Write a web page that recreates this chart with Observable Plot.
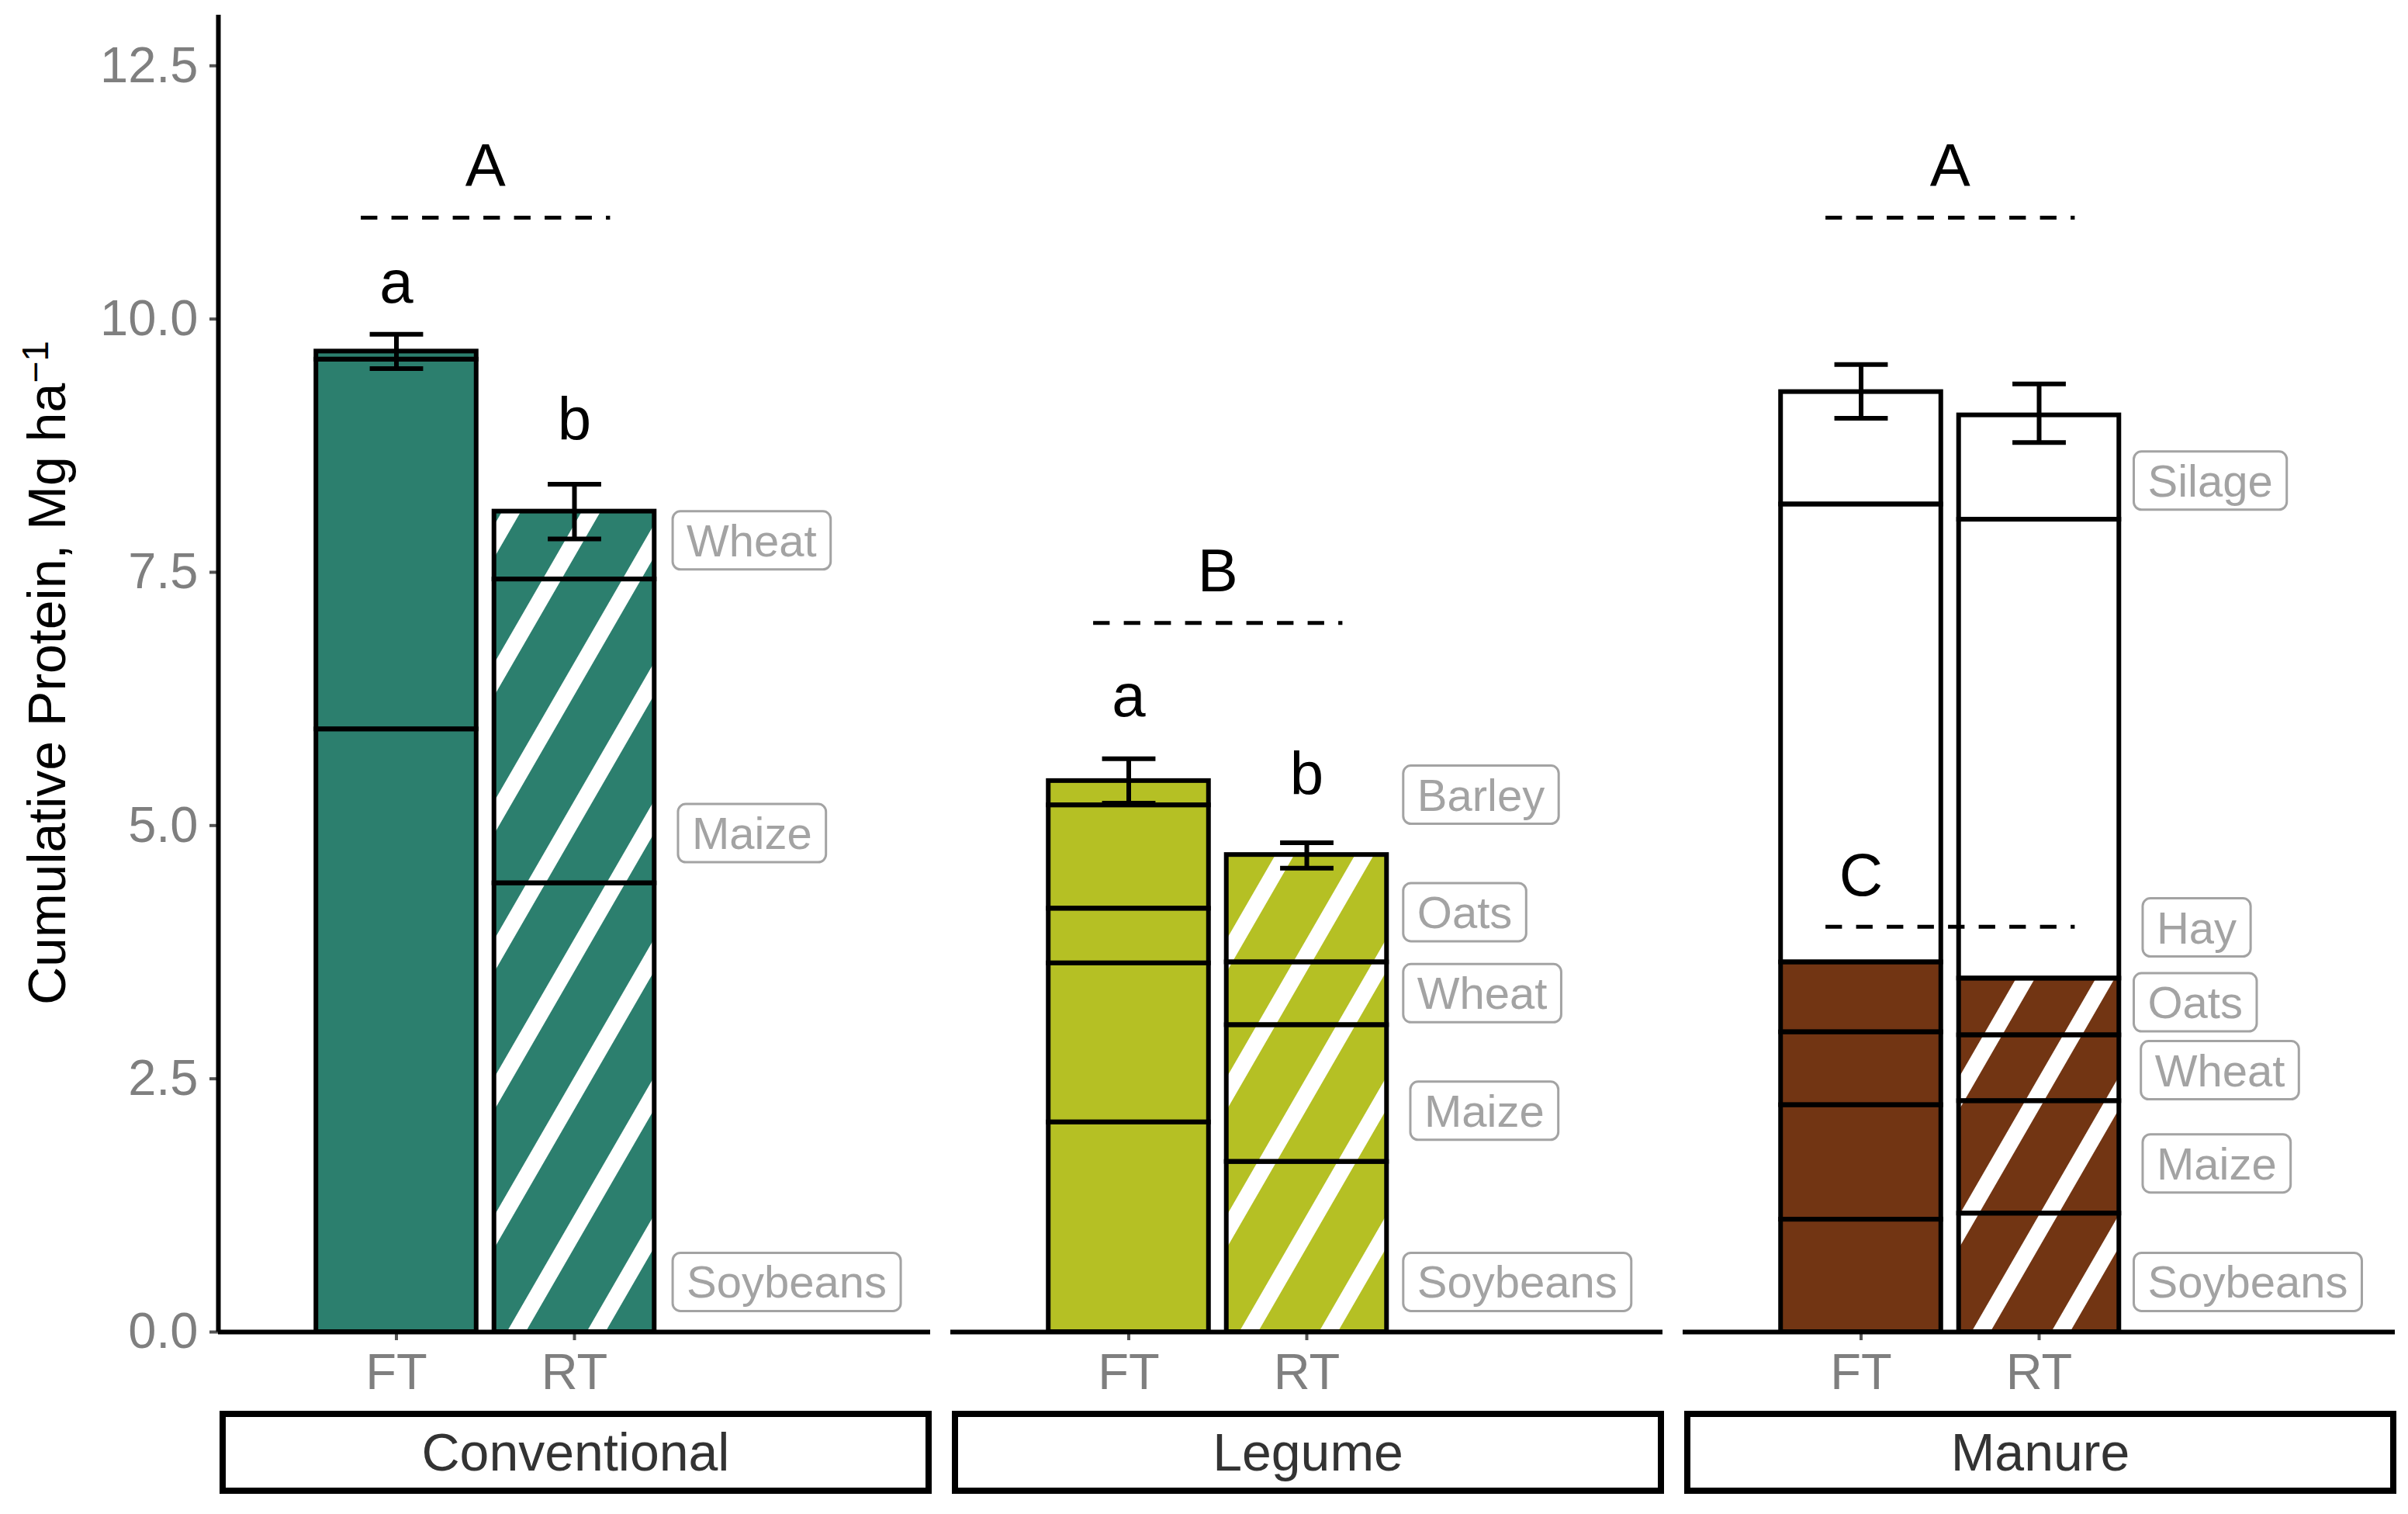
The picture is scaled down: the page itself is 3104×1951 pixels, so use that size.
<!DOCTYPE html>
<html>
<head>
<meta charset="utf-8">
<script src="https://cdn.jsdelivr.net/npm/d3@7"></script>
<script src="https://cdn.jsdelivr.net/npm/@observablehq/plot@0.6"></script>
<style>
  body { margin: 0; background: #fff; }
  svg { display: block; }
</style>
</head>
<body>
<script>
// ---------- data ----------
const systems = ["Conventional", "Legume", "Manure"];
const tillages = ["FT", "RT"];
const systemColors = ["#2c7f6e", "#b5c024", "#723513"];
const whiteCrops = ["Hay", "Silage"];

// crop contributions (Mg ha-1), stacked bottom to top
const convCrops = ["Soybeans", "Maize", "Wheat"];
const convFT = [5.95, 3.65, 0.08];
const convRT = [4.43, 3.00, 0.67];

const legCrops = ["Soybeans", "Maize", "Wheat", "Oats", "Barley"];
const legFT = [2.07, 1.57, 0.54, 1.02, 0.24];
const legRT = [1.68, 1.35, 0.62, 1.06, 0.00];

const manCrops = ["Soybeans", "Maize", "Wheat", "Oats", "Hay", "Silage"];
const manFT = [1.11, 1.13, 0.72, 0.69, 4.52, 1.11];
const manRT = [1.17, 1.11, 0.65, 0.56, 4.53, 1.03];

// error bars
const errSystem = ["Conventional", "Conventional", "Legume", "Legume", "Manure", "Manure"];
const errTillage = ["FT", "RT", "FT", "RT", "FT", "RT"];
const errLow = [9.51, 7.83, 5.22, 4.58, 9.02, 8.78];
const errHigh = [9.85, 8.37, 5.66, 4.83, 9.55, 9.36];

// tillage letters
const tukeySystem = ["Conventional", "Conventional", "Legume", "Legume"];
const tukeyTillage = ["FT", "RT", "FT", "RT"];
const tukeyLetter = ["a", "b", "a", "b"];
const tukeyY = [10.35, 9.0, 6.27, 5.5];

// system letters with dashed lines
const groupSystem = ["Conventional", "Legume", "Manure", "Manure"];
const groupLetter = ["A", "B", "A", "C"];
const groupLineY = [11.0, 7.0, 11.0, 4.0];
const groupLetterY = [11.5, 7.5, 11.5, 4.5];
const groupLetterX = [1.5, 1.5, 1.5, 1.0];
const groupFrom = [0.8, 0.8, 0.8, 0.8];
const groupTo = [2.2, 2.2, 2.2, 2.2];

// crop labels
const labelSystem = ["Conventional", "Conventional", "Conventional",
  "Legume", "Legume", "Legume", "Legume", "Legume",
  "Manure", "Manure", "Manure", "Manure", "Manure", "Manure"];
const labelText = ["Wheat", "Maize", "Soybeans",
  "Barley", "Oats", "Wheat", "Maize", "Soybeans",
  "Silage", "Hay", "Oats", "Wheat", "Maize", "Soybeans"];
const labelY = [7.80, 4.91, 0.48,
  5.29, 4.13, 3.33, 2.17, 0.48,
  8.39, 3.98, 3.24, 2.57, 1.65, 0.48];
const labelX = [2.63, 2.66, 2.63,
  2.62, 2.62, 2.62, 2.66, 2.62,
  2.61, 2.66, 2.61, 2.65, 2.66, 2.61];

const yTicks = [0, 2.5, 5, 7.5, 10, 12.5];

// ---------- tables ----------
const stacks = [[convCrops, convFT, convRT], [legCrops, legFT, legRT], [manCrops, manFT, manRT]];
const segments = [];
systems.forEach((sys, i) => {
  const [crops, ft, rt] = stacks[i];
  [ft, rt].forEach((vals, j) => {
    let base = 0;
    vals.forEach((v, k) => {
      segments.push({
        system: sys, tillage: tillages[j], pos: j + 1, crop: crops[k],
        y1: base, y2: base + v,
        fill: whiteCrops.includes(crops[k]) ? "white" : systemColors[i]
      });
      base += v;
    });
  });
});
const errs = errSystem.map((s, i) => ({system: s, pos: tillages.indexOf(errTillage[i]) + 1, lo: errLow[i], hi: errHigh[i]}));
const tukey = tukeySystem.map((s, i) => ({system: s, pos: tillages.indexOf(tukeyTillage[i]) + 1, letter: tukeyLetter[i], y: tukeyY[i]}));
const groups = groupSystem.map((s, i) => ({system: s, letter: groupLetter[i], lineY: groupLineY[i], letterY: groupLetterY[i], letterX: groupLetterX[i], x1: groupFrom[i], x2: groupTo[i]}));
const labels = labelSystem.map((s, i) => ({system: s, text: labelText[i], x: labelX[i], y: labelY[i]}));

const half = 0.45, cap = 0.15;
const tickGray = "#7f7f7f", tickStroke = "#555555", labelGray = "#a3a3a3";
const lw = 6;

const chart = Plot.plot({
  width: 3104,
  height: 1951,
  marginLeft: 281,
  marginRight: 17,
  marginTop: 19,
  marginBottom: 235,
  style: {fontFamily: "'Liberation Sans', Arial, sans-serif", background: "white"},
  fx: {domain: systems, paddingInner: 26 / 944, paddingOuter: 0, axis: null, label: null},
  x: {domain: [0, 4]},
  y: {domain: [0, 13]},
  color: {type: "identity"},
  marks: [
    Plot.rect(segments, {fx: "system", x1: d => d.pos - half, x2: d => d.pos + half, y1: "y1", y2: "y2", fill: "fill"}),
    Plot.rect(segments.filter(d => d.tillage === "RT"), {fx: "system", x1: d => d.pos - half, x2: d => d.pos + half, y1: "y1", y2: "y2", fill: "url(#hatch)"}),
    Plot.rect(segments, {fx: "system", x1: d => d.pos - half, x2: d => d.pos + half, y1: "y1", y2: "y2", fill: "none", stroke: "black", strokeWidth: lw}),
    // error bars
    Plot.ruleX(errs, {fx: "system", x: "pos", y1: "lo", y2: "hi", stroke: "black", strokeWidth: lw}),
    Plot.link(errs, {fx: "system", x1: d => d.pos - cap, x2: d => d.pos + cap, y1: "hi", y2: "hi", stroke: "black", strokeWidth: lw}),
    Plot.link(errs, {fx: "system", x1: d => d.pos - cap, x2: d => d.pos + cap, y1: "lo", y2: "lo", stroke: "black", strokeWidth: lw}),
    // letters
    Plot.text(tukey, {fx: "system", x: "pos", y: "y", text: "letter", fontSize: 78, fill: "black"}),
    Plot.link(groups, {fx: "system", x1: "x1", x2: "x2", y1: "lineY", y2: "lineY", stroke: "black", strokeWidth: 5, strokeDasharray: "21.3,18.2"}),
    Plot.text(groups, {fx: "system", x: "letterX", y: "letterY", text: "letter", fontSize: 78, fill: "black"}),
    // crop labels
    Plot.text(labels, {fx: "system", x: "x", y: "y", text: "text", textAnchor: "start", fontSize: 58, fill: labelGray, className: "croplabel"}),
    // axes
    Plot.axisY({ticks: yTicks, tickFormat: d3.format(".1f"), tickSize: 11, tickPadding: 15, fontSize: 65, stroke: tickStroke, fill: tickGray, strokeWidth: 4, label: null}),
    Plot.axisX({ticks: [1, 2], tickFormat: d => tillages[d - 1], tickSize: 11, tickPadding: 16, fontSize: 65, stroke: tickStroke, fill: tickGray, strokeWidth: 4, label: null}),
    Plot.ruleY([0], {stroke: "black", strokeWidth: lw}),
    Plot.ruleX([0], {fx: () => "Conventional", stroke: "black", strokeWidth: lw})
  ]
});

document.body.appendChild(chart);

// ---------- decorations ----------
const svg = d3.select(chart);
const NS = "http://www.w3.org/2000/svg";

// hatch pattern (white diagonal stripes)
const defs = svg.insert("defs", ":first-child");
const pat = defs.append("pattern")
  .attr("id", "hatch")
  .attr("patternUnits", "userSpaceOnUse")
  .attr("width", 89)
  .attr("height", 89)
  .attr("patternTransform", "rotate(30)");
pat.append("rect").attr("x", 0).attr("y", 0).attr("width", 21).attr("height", 89).attr("fill", "white");

// label boxes
svg.selectAll("g.croplabel text").each(function () {
  const bb = this.getBBox();
  const cy = bb.y + bb.height / 2;
  const r = document.createElementNS(NS, "rect");
  r.setAttribute("x", bb.x - 18);
  r.setAttribute("y", cy - 37.5);
  r.setAttribute("width", bb.width + 36);
  r.setAttribute("height", 75);
  r.setAttribute("rx", 10);
  r.setAttribute("ry", 10);
  r.setAttribute("fill", "white");
  r.setAttribute("stroke", labelGray);
  r.setAttribute("stroke-width", 3);
  const t = this.getAttribute("transform");
  if (t) r.setAttribute("transform", t);
  this.parentNode.insertBefore(r, this);
});

// facet strips at the bottom
const fx = chart.scale("fx");
systems.forEach(s => {
  const x0 = fx.apply(s), bw = fx.bandwidth;
  svg.append("rect")
    .attr("x", x0 + 6).attr("y", 1822)
    .attr("width", bw - 8).attr("height", 99)
    .attr("fill", "white").attr("stroke", "black").attr("stroke-width", 8);
  svg.append("text")
    .attr("x", x0 + bw / 2 + 2).attr("y", 1871)
    .attr("text-anchor", "middle").attr("dy", "0.35em")
    .attr("font-size", 68).attr("fill", "#333333")
    .text(s);
});

// y-axis title with superscript
const yt = svg.append("text")
  .attr("transform", "translate(84,867) rotate(-90)")
  .attr("text-anchor", "middle")
  .attr("font-size", 68)
  .attr("fill", "black");
yt.append("tspan").text("Cumulative Protein, Mg ha");
yt.append("tspan").attr("dy", "-0.45em").attr("font-size", 48).text("\u22121");
</script>
</body>
</html>
